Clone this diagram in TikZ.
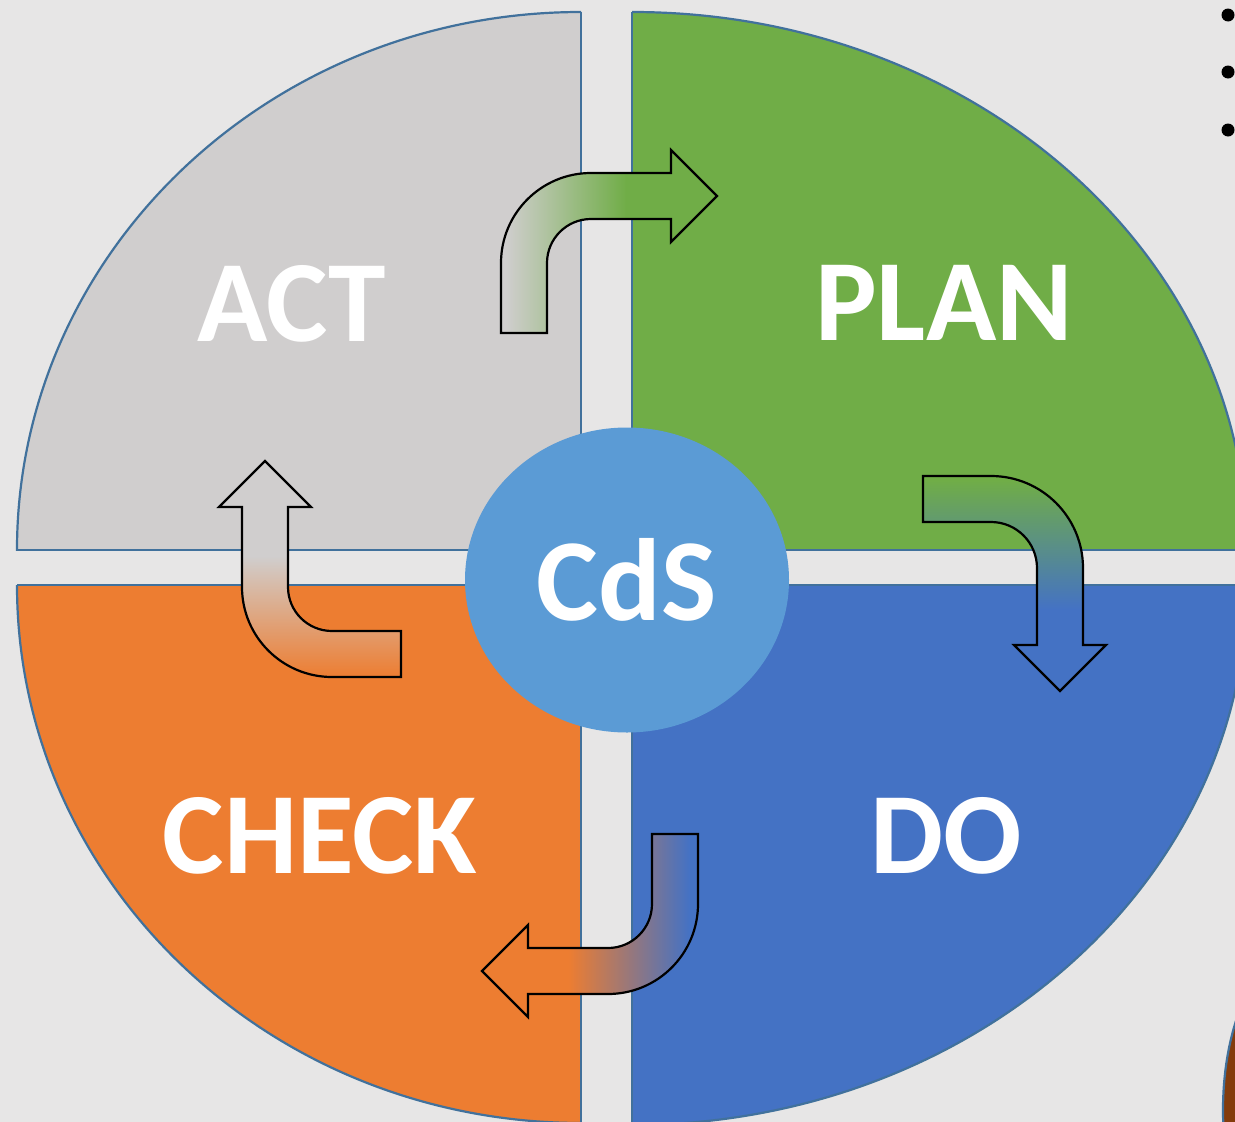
\documentclass[tikz,border=0pt]{standalone}
\usepackage{fontspec}
\setmainfont{Carlito}
\usepackage{xcolor}
\definecolor{cdsbg}{HTML}{E7E6E6}
\definecolor{cdsedge}{HTML}{41719C}
\definecolor{actgrey}{HTML}{D0CECE}
\definecolor{plangreen}{HTML}{70AD47}
\definecolor{doblue}{HTML}{4472C4}
\definecolor{checkorange}{HTML}{ED7D31}
\definecolor{cdsblue}{HTML}{5B9BD5}
\definecolor{cdsbrown}{HTML}{843C0C}
\usepackage{tikz}
\usetikzlibrary{shapes.geometric}
\pgfdeclarehorizontalshading{actplan}{100bp}{color(0bp)=(actgrey); color(26bp)=(actgrey); color(54bp)=(plangreen); color(100bp)=(plangreen)}
\pgfdeclareverticalshading{plando}{100bp}{color(0bp)=(doblue); color(44bp)=(doblue); color(74bp)=(plangreen); color(100bp)=(plangreen)}
\pgfdeclarehorizontalshading{docheck}{100bp}{color(0bp)=(checkorange); color(45bp)=(checkorange); color(73bp)=(doblue); color(100bp)=(doblue)}
\pgfdeclareverticalshading{checkact}{100bp}{color(0bp)=(checkorange); color(25bp)=(checkorange); color(53bp)=(actgrey); color(100bp)=(actgrey)}

\begin{document}
\begin{tikzpicture}[x=1pt,y=-1pt,
  quarter/.style={draw=cdsedge,line width=2.2pt},
  bentarrow/.style={draw=black,line width=2.2pt,line join=miter},
  phase/.style={text=white,inner sep=0pt,font=\fontsize{116}{116}\selectfont\bfseries}]

\useasboundingbox (0,0) rectangle (1235,1122);
\clip (0,0) rectangle (1235,1122);
\fill[cdsbg] (0,0) rectangle (1235,1122);

\begin{scope}
\clip (0,0) rectangle (581,550);
\filldraw[quarter,fill=actgrey] (581,550) ellipse [x radius=564,y radius=538];
\end{scope}
\draw[quarter] (17,550) -- (581,550) -- (581,12);

\begin{scope}
\clip (632,0) rectangle (1240,550);
\filldraw[quarter,fill=plangreen] (632,550) ellipse [x radius=615,y radius=538];
\end{scope}
\draw[quarter] (632,12) -- (632,550) -- (1240,550);

\begin{scope}
\clip (632,585) rectangle (1240,1130);
\filldraw[quarter,fill=doblue] (632,585) ellipse [x radius=615,y radius=540];
\end{scope}
\draw[quarter] (1240,585) -- (632,585) -- (632,1130);

\begin{scope}
\clip (0,585) rectangle (581,1130);
\filldraw[quarter,fill=checkorange] (581,585) ellipse [x radius=564,y radius=538];
\end{scope}
\draw[quarter] (17,585) -- (581,585) -- (581,1130);

\filldraw[quarter,fill=cdsbrown] (1305,1110) ellipse [x radius=82,y radius=165];

\foreach \by in {15,72,130}
  \fill (1228,\by) circle (6.5);

\shadedraw[bentarrow,shading=actplan] (501,333) -- (501,263) .. controls (501,213.3) and (541.3,173) .. (591,173) -- (671,173) -- (671,150) -- (717,196) -- (671,242) -- (671,219) -- (591,219) .. controls (566.7,219) and (547,238.7) .. (547,263) -- (547,333) -- cycle;
\shadedraw[bentarrow,shading=plando] (923,476) -- (991,476) .. controls (1041.8,476) and (1083,517.2) .. (1083,568) -- (1083,645) -- (1106,645) -- (1060,691) -- (1014,645) -- (1037,645) -- (1037,568) .. controls (1037,542.6) and (1016.4,522) .. (991,522) -- (923,522) -- cycle;
\shadedraw[bentarrow,shading=docheck] (652,834) -- (698,834) -- (698,904) .. controls (698,953.7) and (657.7,994) .. (608,994) -- (528,994) -- (528,1017) -- (482,971) -- (528,925) -- (528,948) -- (608,948) .. controls (632.3,948) and (652,928.3) .. (652,904) -- cycle;
\shadedraw[bentarrow,shading=checkact] (401,677) -- (332,677) .. controls (282.3,677) and (242,636.7) .. (242,587) -- (242,507) -- (219,507) -- (265,461) -- (311,507) -- (288,507) -- (288,587) .. controls (288,611.3) and (307.7,631) .. (332,631) -- (401,631) -- cycle;

\node[ellipse,fill=cdsblue,minimum width=324pt,minimum height=305pt,inner sep=0pt,text=white,font=\fontsize{117}{117}\selectfont\bfseries] (cds) at (627,580) {CdS};

\node[phase] (act) at (292,304) {ACT};
\node[phase] (plan) at (944,303) {PLAN};
\node[phase] (check) at (320,836) {CHECK};
\node[phase] (do) at (946,836) {DO};
\end{tikzpicture}
\end{document}
